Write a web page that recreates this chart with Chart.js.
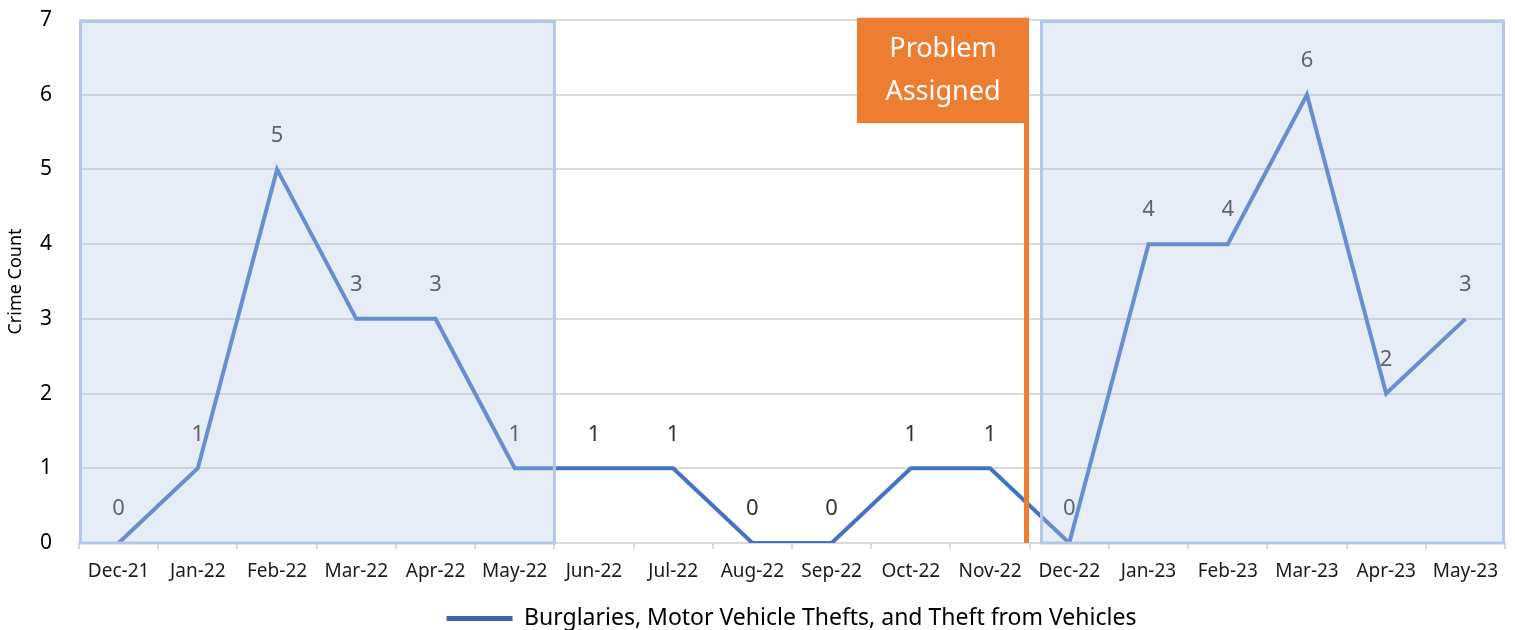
<!DOCTYPE html>
<html>
<head>
<meta charset="utf-8">
<script src="https://cdn.jsdelivr.net/npm/chart.js@4.4.0/dist/chart.umd.min.js"></script>
<style>
  html, body { margin: 0; padding: 0; background: #fff; }
  #wrap { width: 1515px; height: 630px; }
</style>
</head>
<body>
<div id="wrap"><canvas id="chart" width="1515" height="630"></canvas></div>
<script>
// chart data
const months = ['Dec-21', 'Jan-22', 'Feb-22', 'Mar-22', 'Apr-22', 'May-22', 'Jun-22', 'Jul-22', 'Aug-22',
                'Sep-22', 'Oct-22', 'Nov-22', 'Dec-22', 'Jan-23', 'Feb-23', 'Mar-23', 'Apr-23', 'May-23'];
const crimeCounts = [0, 1, 5, 3, 3, 1, 1, 1, 0, 0, 1, 1, 0, 4, 4, 6, 2, 3];
const seriesName = 'Burglaries, Motor Vehicle Thefts, and Theft from Vehicles';
const yTicks = [0, 1, 2, 3, 4, 5, 6, 7];

// before / after periods (category index units) and the assignment marker
const periods = [[-0.5, 5.52], [11.63, 17.5]];
const assignedAt = 11.46;
const assignedText = ['Problem', 'Assigned'];

const FONT = '"Noto Sans", "Open Sans", sans-serif';

const overlayPlugin = {
    id: 'overlay',
    afterLayout(chart) {
        // nudge the legend like the original
        const lg = chart.legend;
        if (lg) { lg.left += 78; lg.top += 10; lg.bottom += 10; }
    },
    afterDatasetsDraw(chart) {
        const ctx = chart.ctx;
        const x = chart.scales.x, y = chart.scales.y;
        const meta = chart.getDatasetMeta(0);

        // value labels above each point
        ctx.save();
        ctx.font = '22px ' + FONT;
        ctx.fillStyle = '#333333';
        ctx.textAlign = 'center';
        ctx.textBaseline = 'middle';
        meta.data.forEach((pt, i) => {
            ctx.fillText(String(crimeCounts[i]), pt.x, pt.y - 34);
        });
        ctx.restore();

        // shaded periods
        ctx.save();
        periods.forEach(([a, b]) => {
            const x0 = x.getPixelForValue(a), x1 = x.getPixelForValue(b);
            const y0 = y.getPixelForValue(7), y1 = y.getPixelForValue(0);
            ctx.fillStyle = 'rgba(180, 199, 231, 0.33)';
            ctx.fillRect(x0, y0, x1 - x0, y1 - y0);
            ctx.strokeStyle = '#b4c7e7';
            ctx.lineWidth = 3;
            ctx.strokeRect(x0 + 1.5, y0 + 1.5, x1 - x0 - 3, y1 - y0 - 1.5);
        });
        ctx.restore();

        // problem assigned marker
        ctx.save();
        const xm = x.getPixelForValue(assignedAt);
        const top = y.getPixelForValue(7.03), bottom = y.getPixelForValue(0);
        ctx.strokeStyle = '#ed7d31';
        ctx.lineWidth = 5;
        ctx.beginPath();
        ctx.moveTo(xm, top);
        ctx.lineTo(xm, bottom);
        ctx.stroke();
        const bx0 = x.getPixelForValue(9.32), bx1 = xm + 2.5;
        const by1 = y.getPixelForValue(5.62);
        ctx.fillStyle = '#ed7d31';
        ctx.fillRect(bx0, top, bx1 - bx0, by1 - top);
        ctx.fillStyle = '#ffffff';
        ctx.font = '27px ' + FONT;
        ctx.textAlign = 'center';
        ctx.textBaseline = 'middle';
        const cx = (bx0 + bx1) / 2;
        ctx.fillText(assignedText[0], cx, top + 32);
        ctx.fillText(assignedText[1], cx, top + 75);
        ctx.restore();
    }
};

new Chart(document.getElementById('chart'), {
    type: 'line',
    data: {
        labels: months,
        datasets: [{
            label: seriesName,
            data: crimeCounts,
            borderColor: '#4472c4',
            backgroundColor: '#4472c4',
            borderWidth: 4,
            tension: 0,
            pointRadius: 0,
            pointHoverRadius: 0,
            borderJoinStyle: 'miter'
        }]
    },
    options: {
        responsive: false,
        devicePixelRatio: 1,
        animation: false,
        layout: { padding: { left: 0, right: 10, top: 0, bottom: 0 } },
        scales: {
            x: {
                offset: true,
                grid: { offset: true, drawOnChartArea: false, color: '#d9d9d9', lineWidth: 2, tickLength: 6 },
                border: { color: '#d9d9d9', width: 2 },
                ticks: { color: '#1a1a1a', font: { family: FONT, size: 19 }, padding: 11, maxRotation: 0, autoSkip: false },
                afterFit: s => { s.height = 53; }
            },
            y: {
                min: 0, max: 7,
                afterBuildTicks: s => { s.ticks = yTicks.map(v => ({ value: v })); },
                grid: { color: '#d9d9d9', lineWidth: 2, drawTicks: false },
                border: { display: false },
                ticks: { color: '#000', font: { family: FONT, size: 21 }, padding: 27 },
                title: { display: true, text: 'Crime Count', color: '#000', font: { family: FONT, size: 18 }, padding: { top: 5, bottom: 0 } },
                afterFit: s => { s.width = 79; s.paddingTop = 20; s.paddingBottom = 0; }
            }
        },
        plugins: {
            tooltip: { enabled: false },
            legend: {
                position: 'bottom',
                labels: {
                    color: '#1a1a1a',
                    font: { family: FONT, size: 23 },
                    boxWidth: 66,
                    boxHeight: 5,
                    padding: 1,
                    generateLabels: chart => [{
                        text: seriesName, fillStyle: '#3d63ad', strokeStyle: '#3d63ad', lineWidth: 0,
                        datasetIndex: 0, hidden: false
                    }]
                }
            }
        }
    },
    plugins: [overlayPlugin]
});
</script>
</body>
</html>
